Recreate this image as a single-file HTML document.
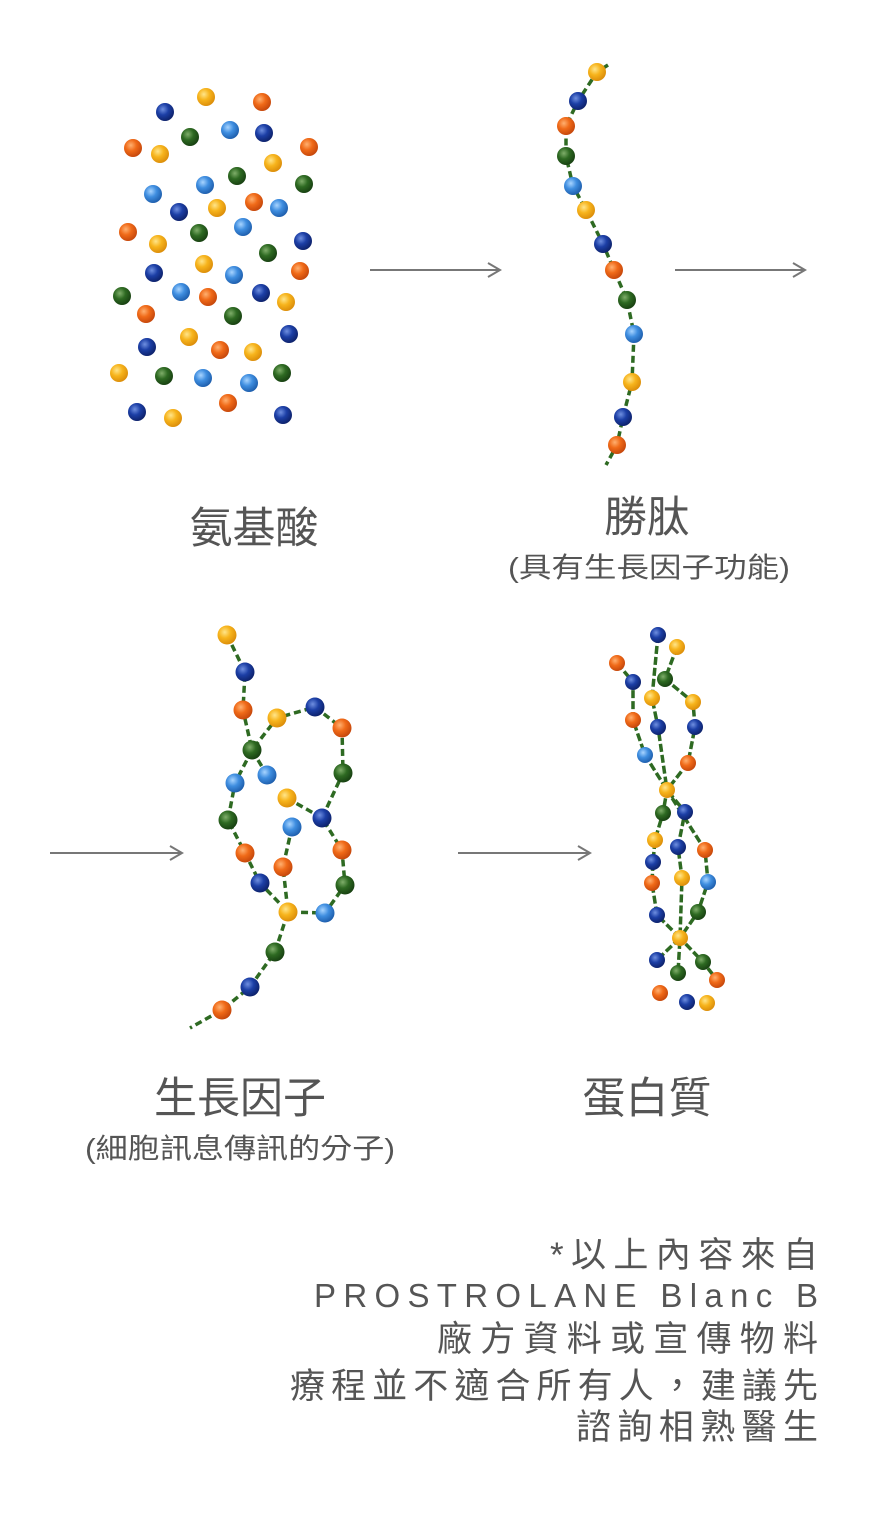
<!DOCTYPE html>
<html><head><meta charset="utf-8"><style>
html,body{margin:0;padding:0;background:#fff;}
svg{display:block;}
text{font-family:"Liberation Sans","Noto Sans CJK TC",sans-serif;fill:#555;}
</style></head><body>
<svg width="869" height="1536" viewBox="0 0 869 1536" xmlns="http://www.w3.org/2000/svg">
<defs>
<radialGradient id="B" cx="0.38" cy="0.35" r="0.7"><stop offset="0" stop-color="#6f8fe0"/><stop offset="0.45" stop-color="#1c3fa6"/><stop offset="1" stop-color="#0c1f66"/></radialGradient>
<radialGradient id="L" cx="0.38" cy="0.35" r="0.7"><stop offset="0" stop-color="#a8d4ff"/><stop offset="0.45" stop-color="#3f8ee0"/><stop offset="1" stop-color="#1b5aa8"/></radialGradient>
<radialGradient id="G" cx="0.38" cy="0.35" r="0.7"><stop offset="0" stop-color="#7fae6a"/><stop offset="0.45" stop-color="#2e6a22"/><stop offset="1" stop-color="#163d10"/></radialGradient>
<radialGradient id="O" cx="0.38" cy="0.35" r="0.7"><stop offset="0" stop-color="#ffb070"/><stop offset="0.45" stop-color="#f06a18"/><stop offset="1" stop-color="#c2440a"/></radialGradient>
<radialGradient id="Y" cx="0.38" cy="0.35" r="0.7"><stop offset="0" stop-color="#ffe58a"/><stop offset="0.45" stop-color="#f7b41c"/><stop offset="1" stop-color="#d98a08"/></radialGradient>
</defs>

<!-- arrows -->
<g stroke="#777" stroke-width="2" fill="none">
<line x1="370" y1="270" x2="498" y2="270"/><path d="M488,263 L500,270 L488,277"/>
<line x1="675" y1="270" x2="803" y2="270"/><path d="M793,263 L805,270 L793,277"/>
<line x1="50" y1="853" x2="180" y2="853"/><path d="M170,846 L182,853 L170,860"/>
<line x1="458" y1="853" x2="588" y2="853"/><path d="M578,846 L590,853 L578,860"/>
</g>

<!-- amino acids -->
<g id="aa">
<circle cx="165" cy="112" r="9" fill="url(#B)"/><circle cx="206" cy="97" r="9" fill="url(#Y)"/><circle cx="262" cy="102" r="9" fill="url(#O)"/>
<circle cx="190" cy="137" r="9" fill="url(#G)"/><circle cx="230" cy="130" r="9" fill="url(#L)"/><circle cx="264" cy="133" r="9" fill="url(#B)"/>
<circle cx="133" cy="148" r="9" fill="url(#O)"/><circle cx="160" cy="154" r="9" fill="url(#Y)"/><circle cx="309" cy="147" r="9" fill="url(#O)"/>
<circle cx="273" cy="163" r="9" fill="url(#Y)"/><circle cx="237" cy="176" r="9" fill="url(#G)"/><circle cx="304" cy="184" r="9" fill="url(#G)"/>
<circle cx="205" cy="185" r="9" fill="url(#L)"/><circle cx="153" cy="194" r="9" fill="url(#L)"/><circle cx="179" cy="212" r="9" fill="url(#B)"/>
<circle cx="217" cy="208" r="9" fill="url(#Y)"/><circle cx="254" cy="202" r="9" fill="url(#O)"/><circle cx="279" cy="208" r="9" fill="url(#L)"/>
<circle cx="128" cy="232" r="9" fill="url(#O)"/><circle cx="199" cy="233" r="9" fill="url(#G)"/><circle cx="243" cy="227" r="9" fill="url(#L)"/>
<circle cx="303" cy="241" r="9" fill="url(#B)"/><circle cx="158" cy="244" r="9" fill="url(#Y)"/><circle cx="268" cy="253" r="9" fill="url(#G)"/>
<circle cx="204" cy="264" r="9" fill="url(#Y)"/><circle cx="154" cy="273" r="9" fill="url(#B)"/><circle cx="234" cy="275" r="9" fill="url(#L)"/>
<circle cx="300" cy="271" r="9" fill="url(#O)"/><circle cx="122" cy="296" r="9" fill="url(#G)"/><circle cx="181" cy="292" r="9" fill="url(#L)"/>
<circle cx="208" cy="297" r="9" fill="url(#O)"/><circle cx="261" cy="293" r="9" fill="url(#B)"/><circle cx="286" cy="302" r="9" fill="url(#Y)"/>
<circle cx="146" cy="314" r="9" fill="url(#O)"/><circle cx="233" cy="316" r="9" fill="url(#G)"/><circle cx="289" cy="334" r="9" fill="url(#B)"/>
<circle cx="189" cy="337" r="9" fill="url(#Y)"/><circle cx="147" cy="347" r="9" fill="url(#B)"/><circle cx="220" cy="350" r="9" fill="url(#O)"/>
<circle cx="253" cy="352" r="9" fill="url(#Y)"/><circle cx="119" cy="373" r="9" fill="url(#Y)"/><circle cx="164" cy="376" r="9" fill="url(#G)"/>
<circle cx="203" cy="378" r="9" fill="url(#L)"/><circle cx="249" cy="383" r="9" fill="url(#L)"/><circle cx="282" cy="373" r="9" fill="url(#G)"/>
<circle cx="228" cy="403" r="9" fill="url(#O)"/><circle cx="137" cy="412" r="9" fill="url(#B)"/><circle cx="173" cy="418" r="9" fill="url(#Y)"/>
<circle cx="283" cy="415" r="9" fill="url(#B)"/>
</g>

<!-- peptide -->
<polyline points="608,65 597,72 578,101 566,126 566,156 573,186 586,210 603,244 614,270 627,300 634,334 632,382 623,417 617,445 606,465" fill="none" stroke="#2e6a22" stroke-width="3.5" stroke-dasharray="7,4"/>
<g>
<circle cx="597" cy="72" r="9" fill="url(#Y)"/><circle cx="578" cy="101" r="9" fill="url(#B)"/><circle cx="566" cy="126" r="9" fill="url(#O)"/>
<circle cx="566" cy="156" r="9" fill="url(#G)"/><circle cx="573" cy="186" r="9" fill="url(#L)"/><circle cx="586" cy="210" r="9" fill="url(#Y)"/>
<circle cx="603" cy="244" r="9" fill="url(#B)"/><circle cx="614" cy="270" r="9" fill="url(#O)"/><circle cx="627" cy="300" r="9" fill="url(#G)"/>
<circle cx="634" cy="334" r="9" fill="url(#L)"/><circle cx="632" cy="382" r="9" fill="url(#Y)"/><circle cx="623" cy="417" r="9" fill="url(#B)"/>
<circle cx="617" cy="445" r="9" fill="url(#O)"/>
</g>

<!-- growth factor -->
<g fill="none" stroke="#2e6a22" stroke-width="3.5" stroke-dasharray="7,4">
<polyline points="227,635 245,672 243,710 252,750 235,783 228,820 245,853 260,883 288,912 325,913 345,885 342,850 322,818 343,773 342,728 315,707 277,718 252,750 267,775"/>
<polyline points="287,798 322,818"/>
<polyline points="292,827 283,867 288,912 275,952 250,987 222,1010 190,1028"/>
</g>
<g>
<circle cx="227" cy="635" r="9.5" fill="url(#Y)"/><circle cx="245" cy="672" r="9.5" fill="url(#B)"/><circle cx="243" cy="710" r="9.5" fill="url(#O)"/>
<circle cx="277" cy="718" r="9.5" fill="url(#Y)"/><circle cx="315" cy="707" r="9.5" fill="url(#B)"/><circle cx="342" cy="728" r="9.5" fill="url(#O)"/>
<circle cx="252" cy="750" r="9.5" fill="url(#G)"/><circle cx="235" cy="783" r="9.5" fill="url(#L)"/><circle cx="267" cy="775" r="9.5" fill="url(#L)"/>
<circle cx="343" cy="773" r="9.5" fill="url(#G)"/><circle cx="287" cy="798" r="9.5" fill="url(#Y)"/><circle cx="322" cy="818" r="9.5" fill="url(#B)"/>
<circle cx="292" cy="827" r="9.5" fill="url(#L)"/><circle cx="228" cy="820" r="9.5" fill="url(#G)"/><circle cx="245" cy="853" r="9.5" fill="url(#O)"/>
<circle cx="342" cy="850" r="9.5" fill="url(#O)"/><circle cx="283" cy="867" r="9.5" fill="url(#O)"/><circle cx="260" cy="883" r="9.5" fill="url(#B)"/>
<circle cx="345" cy="885" r="9.5" fill="url(#G)"/><circle cx="288" cy="912" r="9.5" fill="url(#Y)"/><circle cx="325" cy="913" r="9.5" fill="url(#L)"/>
<circle cx="275" cy="952" r="9.5" fill="url(#G)"/><circle cx="250" cy="987" r="9.5" fill="url(#B)"/><circle cx="222" cy="1010" r="9.5" fill="url(#O)"/>
</g>

<!-- protein -->
<g fill="none" stroke="#2e6a22" stroke-width="3.5" stroke-dasharray="8,3">
<polyline points="658,635 652,698 658,727 667,790 663,813 655,840 653,862 652,883 657,915 680,938 678,973"/>
<polyline points="617,663 633,682 633,720 645,755 667,790 685,812 678,847 682,878 680,938 657,960"/>
<polyline points="677,647 665,679 693,702 695,727 688,763 667,790 705,850 708,882 698,912 680,938 703,962 717,980"/>
</g>
<g>
<circle cx="658" cy="635" r="8" fill="url(#B)"/><circle cx="677" cy="647" r="8" fill="url(#Y)"/><circle cx="617" cy="663" r="8" fill="url(#O)"/>
<circle cx="633" cy="682" r="8" fill="url(#B)"/><circle cx="665" cy="679" r="8" fill="url(#G)"/><circle cx="652" cy="698" r="8" fill="url(#Y)"/>
<circle cx="693" cy="702" r="8" fill="url(#Y)"/><circle cx="633" cy="720" r="8" fill="url(#O)"/><circle cx="658" cy="727" r="8" fill="url(#B)"/>
<circle cx="695" cy="727" r="8" fill="url(#B)"/><circle cx="645" cy="755" r="8" fill="url(#L)"/><circle cx="688" cy="763" r="8" fill="url(#O)"/>
<circle cx="667" cy="790" r="8" fill="url(#Y)"/><circle cx="663" cy="813" r="8" fill="url(#G)"/><circle cx="685" cy="812" r="8" fill="url(#B)"/>
<circle cx="655" cy="840" r="8" fill="url(#Y)"/><circle cx="678" cy="847" r="8" fill="url(#B)"/><circle cx="705" cy="850" r="8" fill="url(#O)"/>
<circle cx="653" cy="862" r="8" fill="url(#B)"/><circle cx="652" cy="883" r="8" fill="url(#O)"/><circle cx="682" cy="878" r="8" fill="url(#Y)"/>
<circle cx="708" cy="882" r="8" fill="url(#L)"/><circle cx="698" cy="912" r="8" fill="url(#G)"/><circle cx="657" cy="915" r="8" fill="url(#B)"/>
<circle cx="680" cy="938" r="8" fill="url(#Y)"/><circle cx="657" cy="960" r="8" fill="url(#B)"/><circle cx="678" cy="973" r="8" fill="url(#G)"/>
<circle cx="703" cy="962" r="8" fill="url(#G)"/><circle cx="717" cy="980" r="8" fill="url(#O)"/><circle cx="660" cy="993" r="8" fill="url(#O)"/>
<circle cx="687" cy="1002" r="8" fill="url(#B)"/><circle cx="707" cy="1003" r="8" fill="url(#Y)"/>
</g>

<!-- labels -->
<g text-anchor="middle">
<text x="254" y="543" font-size="43">氨基酸</text>
<text x="647" y="532" font-size="43">勝肽</text>
<text x="649" y="577" font-size="28" textLength="282" lengthAdjust="spacingAndGlyphs">(具有生長因子功能)</text>
<text x="240" y="1113" font-size="43">生長因子</text>
<text x="240" y="1158" font-size="28" textLength="310" lengthAdjust="spacingAndGlyphs">(細胞訊息傳訊的分子)</text>
<text x="647" y="1113" font-size="43">蛋白質</text>
</g>
<g font-size="35" text-anchor="end">
<text x="818" y="1267" textLength="268" lengthAdjust="spacing">*以上內容來自</text>
<text x="818" y="1307" font-size="33" textLength="504" lengthAdjust="spacing">PROSTROLANE Blanc B</text>
<text x="818" y="1351" textLength="381" lengthAdjust="spacing">廠方資料或宣傳物料</text>
<text x="818" y="1398" textLength="528" lengthAdjust="spacing">療程並不適合所有人，建議先</text>
<text x="818" y="1439" textLength="242" lengthAdjust="spacing">諮詢相熟醫生</text>
</g>
</svg>
</body></html>
